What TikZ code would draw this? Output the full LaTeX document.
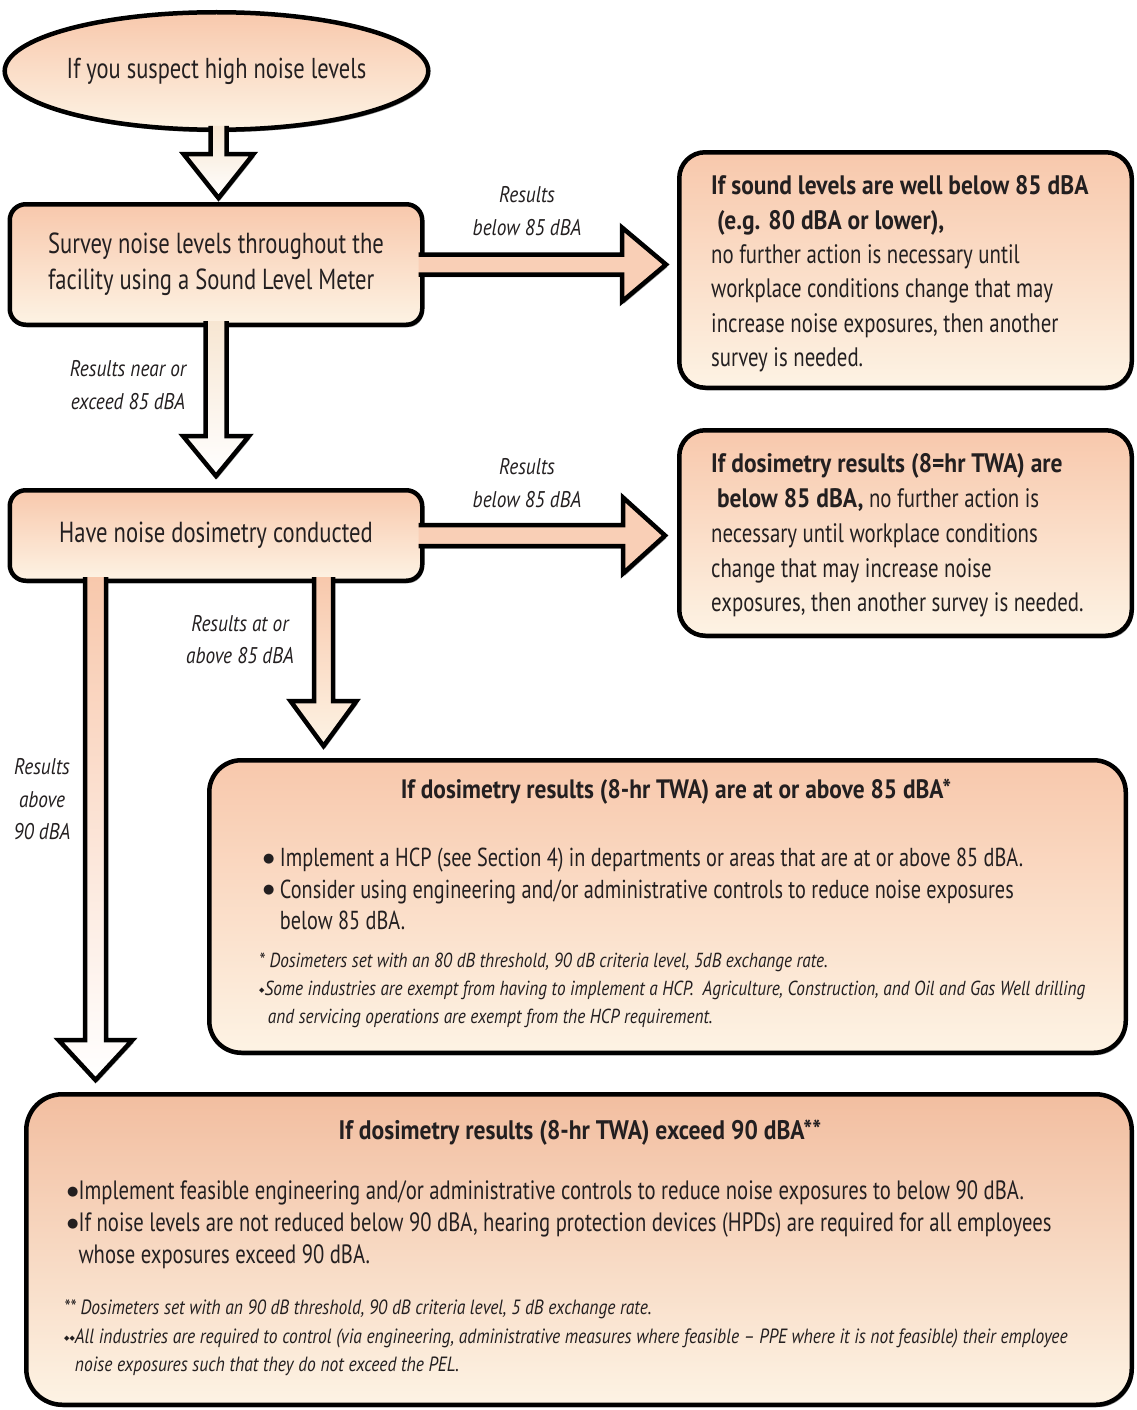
\documentclass[tikz,border=0pt]{standalone}
\usepackage{fontspec}
\setmainfont{PT Sans}[FakeStretch=0.78, BoldFeatures={FakeStretch=0.88}, ItalicFeatures={FakeStretch=0.85}]
\newfontfamily\symfont{DejaVu Sans}
\usetikzlibrary{shapes.geometric,shadows,calc}
\definecolor{peach}{RGB}{248,200,172}
\definecolor{cream}{RGB}{253,243,228}
\definecolor{peachD}{RGB}{242,190,160}
\definecolor{txt}{RGB}{35,31,32}
\definecolor{arrPeach}{RGB}{249,207,182}
\definecolor{arrCream}{RGB}{247,230,210}
\newcommand\fnDia{{\symfont\fontsize{7}{7}\selectfont\raisebox{3pt}{◆}}}
\newcommand\bigBul{{\symfont\fontsize{13}{13}\selectfont\raisebox{4.2pt}{●}}}
\tikzset{
  shade/.style={drop shadow={shadow xshift=1.5pt, shadow yshift=-2.5pt, fill=black, opacity=0.45}},
  boxstyle/.style={draw=black, line width=4.5pt, rounded corners=#1, top color=peach, bottom color=cream, shade, inner sep=0pt},
  arrowline/.style={draw=black, line width=4.5pt, line join=miter},
  lbl/.style={align=center, inner sep=0pt, font=\itshape\fontsize{22.7}{32.5}\selectfont},
  every node/.append style={text=txt},
}
% down block arrow: #1 fill options, #2 start, #3 target tip, #4 shaft half width, #5 head half width, #6 head length
\newcommand\DArrow[6]{%
  \path[#1] let \p1=(#2), \p2=(#3) in
    (\x1-#4pt,\y1+6pt) -- (\x1-#4pt,\y2+#6pt) -- (\x1-#5pt,\y2+#6pt) -- (\x1,\y2)
    -- (\x1+#5pt,\y2+#6pt) -- (\x1+#4pt,\y2+#6pt) -- (\x1+#4pt,\y1+6pt) -- cycle;
  \draw[arrowline] let \p1=(#2), \p2=(#3) in
    (\x1-#4pt,\y1+6pt) -- (\x1-#4pt,\y2+#6pt) -- (\x1-#5pt,\y2+#6pt) -- (\x1,\y2)
    -- (\x1+#5pt,\y2+#6pt) -- (\x1+#4pt,\y2+#6pt) -- (\x1+#4pt,\y1+6pt);
}
% right block arrow
\newcommand\RArrow[6]{%
  \path[#1] let \p1=(#2), \p2=(#3) in
    (\x1-6pt,\y1+#4pt) -- (\x2-#6pt,\y1+#4pt) -- (\x2-#6pt,\y1+#5pt) -- (\x2,\y1)
    -- (\x2-#6pt,\y1-#5pt) -- (\x2-#6pt,\y1-#4pt) -- (\x1-6pt,\y1-#4pt) -- cycle;
  \draw[arrowline] let \p1=(#2), \p2=(#3) in
    (\x1-6pt,\y1+#4pt) -- (\x2-#6pt,\y1+#4pt) -- (\x2-#6pt,\y1+#5pt) -- (\x2,\y1)
    -- (\x2-#6pt,\y1-#5pt) -- (\x2-#6pt,\y1-#4pt) -- (\x1-6pt,\y1-#4pt);
}
\begin{document}
\begin{tikzpicture}[x=1pt,y=-1pt]
\useasboundingbox (0,0) rectangle (1136,1410);
\clip (0,0) rectangle (1136,1410);

% boxes
\node[ellipse, draw=black, line width=4.5pt, top color=peach, bottom color=cream, shade,
      minimum width=412.5pt, minimum height=117.5pt, inner sep=0pt,
      font=\fontsize{28.8}{31}\selectfont] (ell) at (216.5,71) {If you suspect high noise levels};
\node[boxstyle=16pt, minimum width=412.5pt, minimum height=120.5pt, align=left,
      font=\fontsize{29}{36}\selectfont] (survey) at (216,264.5)
      {Survey noise levels throughout the\\facility using a Sound Level Meter};
\node[boxstyle=16pt, minimum width=412.5pt, minimum height=90.5pt,
      font=\fontsize{29}{33}\selectfont] (dos) at (216,535.5) {Have noise dosimetry conducted};
\node[boxstyle=26pt, minimum width=452.5pt, minimum height=235.5pt] (boxA) at (905.5,270) {};
\node[boxstyle=26pt, minimum width=452.5pt, minimum height=205.5pt] (boxB) at (905.5,533) {};
\node[boxstyle=32pt, minimum width=916.5pt, minimum height=292.5pt] (boxC) at (667.5,906.5) {};
\node[boxstyle=36pt, top color=peachD, minimum width=1105.5pt, minimum height=310.5pt] (boxD) at (579,1249.5) {};

\coordinate (xa) at (323.5,0);
\coordinate (xb) at (95.5,0);

% arrows
\DArrow{top color=arrCream, bottom color=white, shade}{[xshift=2pt]ell.south}{[yshift=4pt]survey.north}{8}{35}{44}
\DArrow{top color=arrCream, bottom color=white, shade}{survey.south}{[yshift=12pt]dos.north}{10.5}{33}{40}
\RArrow{fill=arrPeach, shade}{survey.east}{[xshift=-11pt]boxA.west}{10}{37}{44}
\RArrow{fill=arrPeach, shade}{dos.east}{[xshift=-12pt]boxB.west}{10.5}{38}{42}
\DArrow{top color=peach, bottom color=cream, shade}{dos.south -| xa}{[yshift=12pt]boxC.north -| xa}{9.5}{33}{45}
\DArrow{top color=peach, bottom color=white, shade}{dos.south -| xb}{[yshift=12pt]boxD.north -| xb}{10.5}{37}{40}

% labels
\node[lbl] (l1) at (527,211) {Results\\below 85 dBA};
\node[lbl] (l2) at (527,483) {Results\\below 85 dBA};
\node[lbl] (l3) at (128,385) {Results near or\\exceed 85 dBA};
\node[lbl] (l4) at (240,639.5) {Results at or\\above 85 dBA};
\node[lbl] (l5) at (42,799.5) {Results\\above\\90 dBA};

% box texts
\node[align=left, anchor=west, inner sep=0pt, font=\fontsize{26.7}{34.4}\selectfont] (ta) at (711,274)
  {\textbf{If sound levels are well below 85 dBA}\\
   \textbf{\ (e.g. 80 dBA or lower),}\\
   no further action is necessary until\\
   workplace conditions change that may\\
   increase noise exposures, then another\\
   survey is needed.};
\node[align=left, anchor=west, inner sep=0pt, font=\fontsize{26.7}{34.75}\selectfont] (tb) at (711,535.5)
  {\textbf{If dosimetry results (8=hr TWA) are}\\
   \textbf{\ below 85 dBA,} no further action is\\
   necessary until workplace conditions\\
   change that may increase noise\\
   exposures, then another survey is needed.};

\node[inner sep=0pt, font=\bfseries\fontsize{26.6}{28}\selectfont] (tc) at (676,792)
  {If dosimetry results (8-hr TWA) are at or above 85 dBA*};
\node[align=left, anchor=west, inner sep=0pt, font=\fontsize{26}{31.5}\selectfont] (bc) at (263,889)
  {\bigBul\ Implement a HCP (see Section 4) in departments or areas that are at or above 85 dBA.\\
   \bigBul\ Consider using engineering and/or administrative controls to reduce noise exposures\\
   \phantom{\bigBul\ }below 85 dBA.};
\node[align=left, anchor=west, inner sep=0pt, font=\itshape\fontsize{20.3}{28}\selectfont] (fc) at (259,990)
  {* Dosimeters set with an 80 dB threshold, 90 dB criteria level, 5dB exchange rate.\\
   \fnDia Some industries are exempt from having to implement a HCP.\ \ Agriculture, Construction, and Oil and Gas Well drilling\\
   \phantom{\fnDia\,}and servicing operations are exempt from the HCP requirement.};

\node[inner sep=0pt, font=\bfseries\fontsize{26.8}{28}\selectfont] (td) at (580,1133)
  {If dosimetry results (8-hr TWA) exceed 90 dBA**};
\node[align=left, anchor=west, inner sep=0pt, font=\fontsize{26.5}{32}\selectfont] (bd) at (67,1225)
  {\bigBul Implement feasible engineering and/or administrative controls to reduce noise exposures to below 90 dBA.\\
   \bigBul If noise levels are not reduced below 90 dBA, hearing protection devices (HPDs) are required for all employees\\
   \phantom{\bigBul}whose exposures exceed 90 dBA.};
\node[align=left, anchor=west, inner sep=0pt, font=\itshape\fontsize{20.6}{28.5}\selectfont] (fd) at (64,1338)
  {** Dosimeters set with an 90 dB threshold, 90 dB criteria level, 5 dB exchange rate.\\
   \fnDia\fnDia All industries are required to control (via engineering, administrative measures where feasible – PPE where it is not feasible) their employee\\
   \phantom{\fnDia\fnDia}noise exposures such that they do not exceed the PEL.};
\end{tikzpicture}
\end{document}
